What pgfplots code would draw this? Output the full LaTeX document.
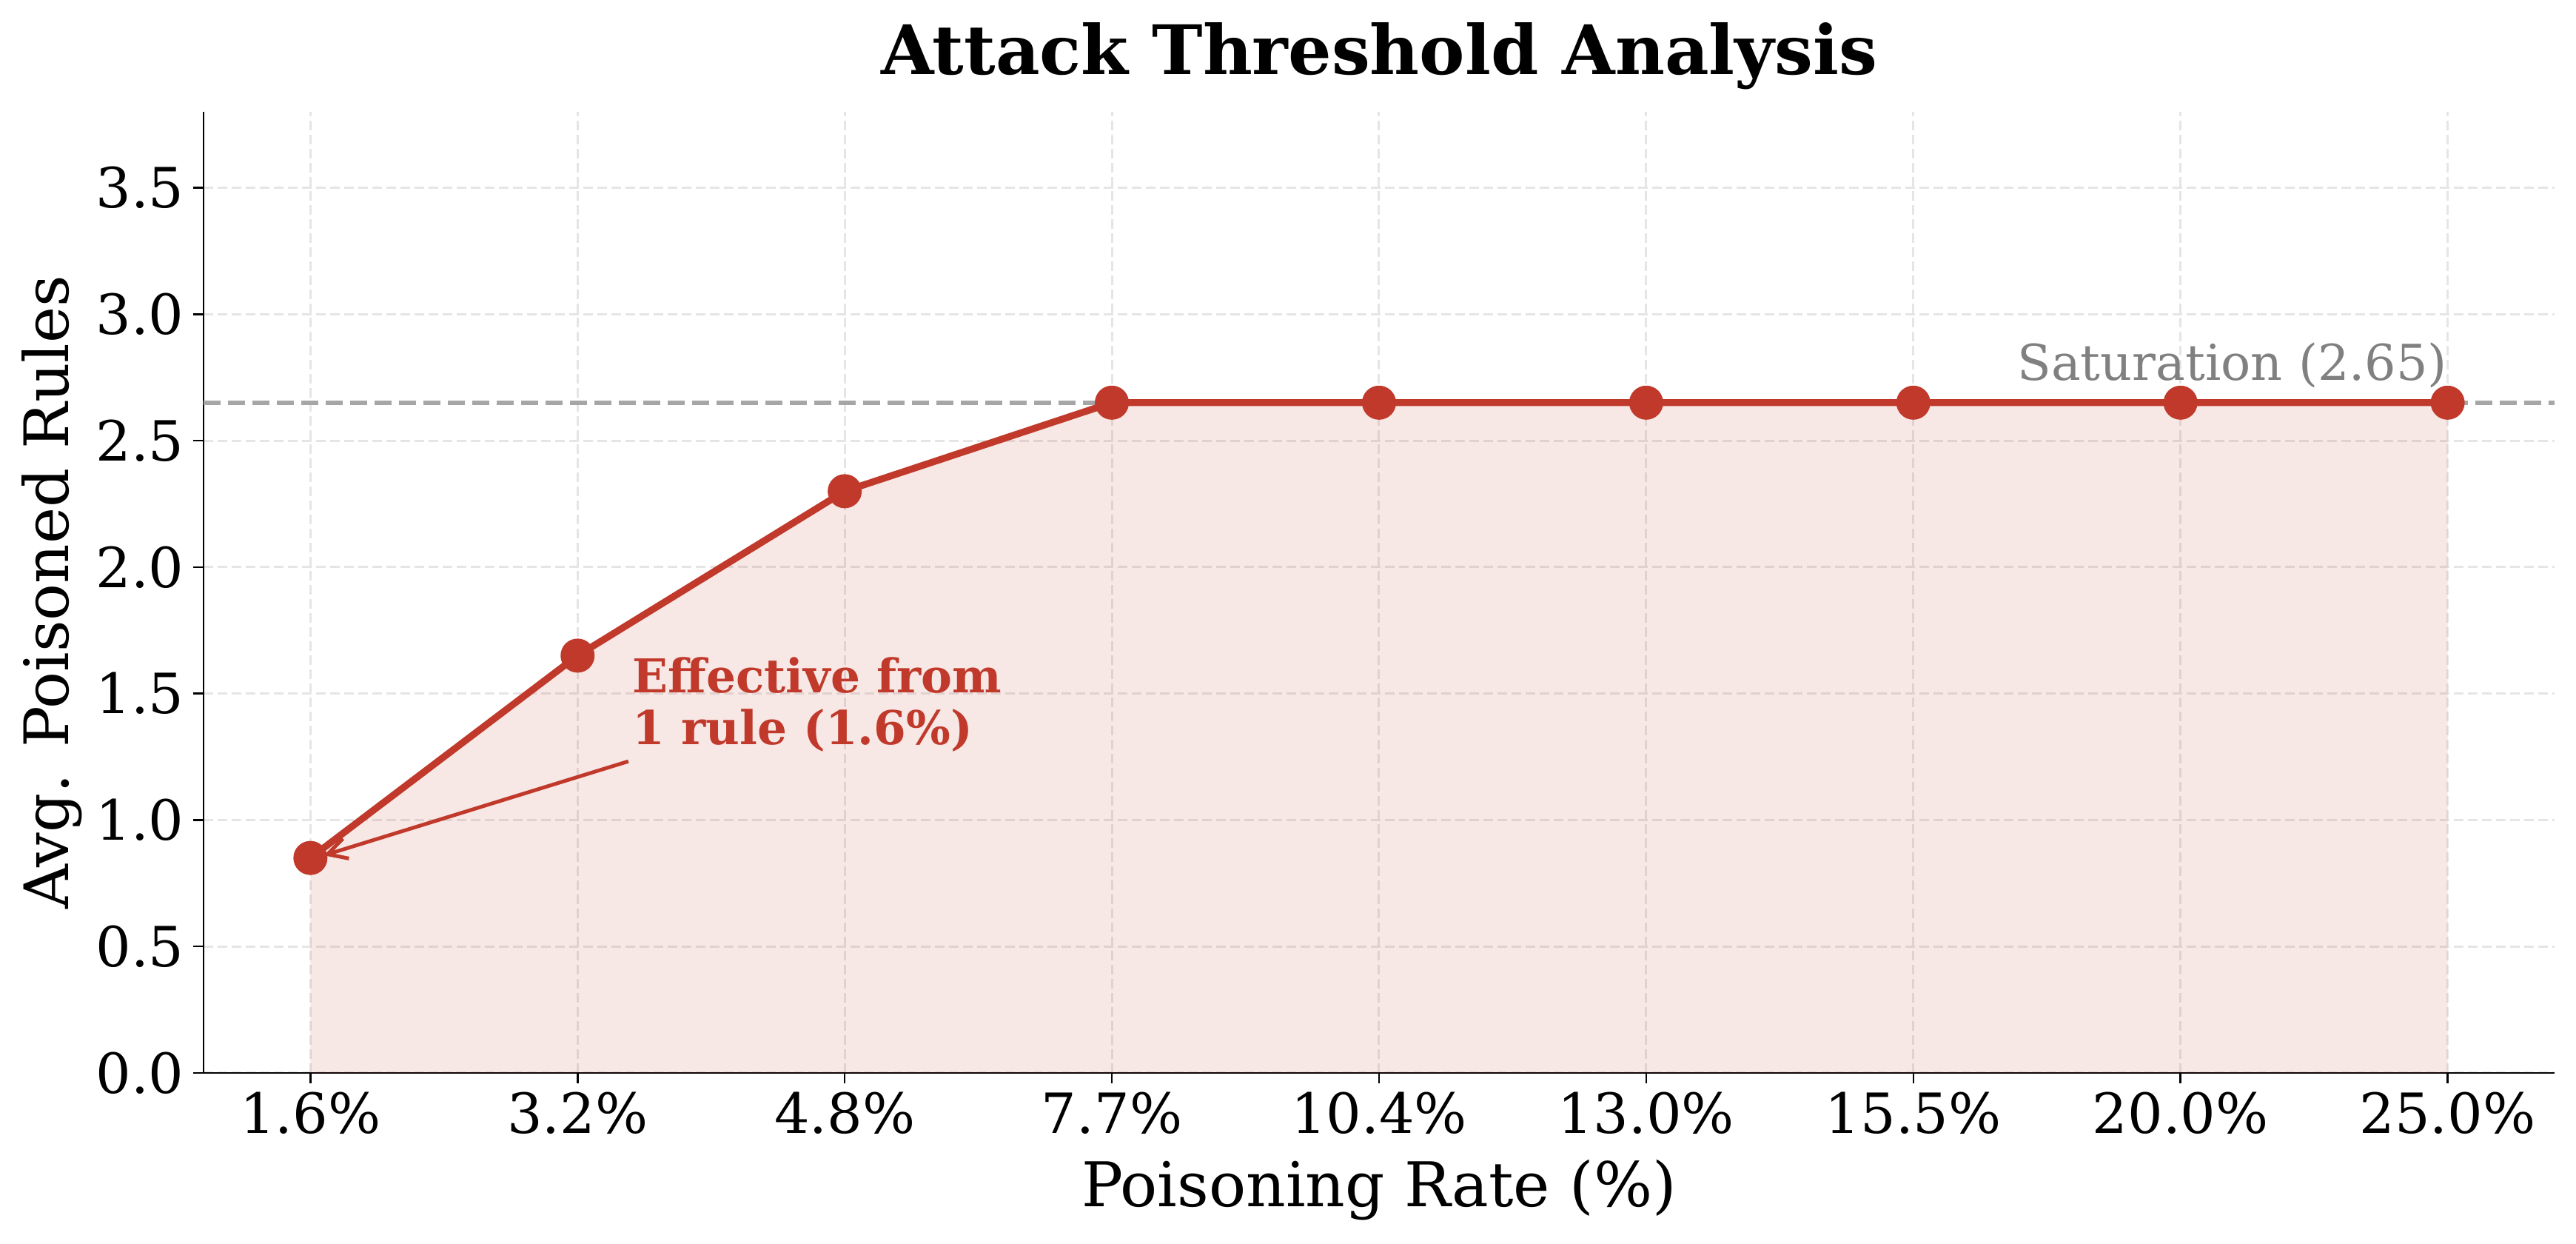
\documentclass[border=0pt]{standalone}
\usepackage{pgfplots}
\pgfplotsset{compat=1.18}
\usepackage{fontspec}
\setmainfont{DejaVu Serif}
\usetikzlibrary{arrows.meta}
\definecolor{cRed}{HTML}{C0392B}
\begin{document}
\begin{tikzpicture}
\path[use as bounding box] (0,0) rectangle (348mm,168mm);
\begin{axis}[
  at={(27.5mm,23.1mm)}, anchor=south west,
  scale only axis, width=317.6mm, height=129.8mm,
  xmin=-0.4, xmax=8.4, ymin=0, ymax=3.8,
  axis x line*=bottom, axis y line*=left,
  axis line style={line width=0.25mm, -},
  xtick={0,...,8},
  xticklabels={1.6\%,3.2\%,4.8\%,7.7\%,10.4\%,13.0\%,15.5\%,20.0\%,25.0\%},
  ytick={0,0.5,...,3.5},
  /pgf/number format/assume math mode=true,
  yticklabel style={/pgf/number format/.cd, fixed, fixed zerofill, precision=1},
  tick align=outside,
  major tick length=1.4mm,
  tick style={line width=0.25mm, black},
  ticklabel style={font=\fontsize{21.3}{25}\selectfont},
  grid=major,
  major grid style={dash pattern=on 1.3mm off 0.6mm, line width=0.3mm, black!10},
  title={Attack Threshold Analysis},
  title style={at={(0.5,1.0230)}, anchor=base, font=\bfseries\fontsize{26.2}{30}\selectfont},
  xlabel={Poisoning Rate (\%)},
  xlabel style={at={(axis description cs:0.5,-0.1394)}, anchor=base, font=\fontsize{23.7}{28}\selectfont},
  ylabel={Avg. Poisoned Rules},
  ylabel style={at={(axis description cs:-0.0576,0.5)}, anchor=base, font=\fontsize{23.6}{28}\selectfont},
]
\addplot[draw=none, fill=cRed, fill opacity=0.12, forget plot] coordinates {(0,0.85) (1,1.65) (2,2.3) (3,2.65) (4,2.65) (5,2.65) (6,2.65) (7,2.65) (8,2.65)} \closedcycle;
\addplot[black!35, line width=0.6mm, dash pattern=on 2.3mm off 1mm] coordinates {(-0.4,2.65) (8.4,2.65)};
\addplot[cRed, line width=0.93mm, mark=*, mark size=2.15mm, mark options={solid, line width=0.3mm, fill=cRed}] coordinates {(0,0.85) (1,1.65) (2,2.3) (3,2.65) (4,2.65) (5,2.65) (6,2.65) (7,2.65) (8,2.65)};
\node[anchor=base east, text=black!50, font=\fontsize{19}{23}\selectfont, inner sep=0pt] at (axis cs:8,2.74) {Saturation (2.65)};
\node[anchor=base west, text=cRed, font=\bfseries\fontsize{17.9}{21}\selectfont, inner sep=0pt] at (axis cs:1.205,1.504) {Effective from};
\node[anchor=base west, text=cRed, font=\bfseries\fontsize{17.9}{21}\selectfont, inner sep=0pt] at (axis cs:1.205,1.299) {1 rule (1.6\%)};
\draw[cRed, line width=0.5mm, -{Straight Barb[length=2.6mm, width=2.8mm, line width=0.5mm]}] (axis cs:1.19,1.232) -- (axis cs:0.05,0.86);
\end{axis}
\end{tikzpicture}
\end{document}
